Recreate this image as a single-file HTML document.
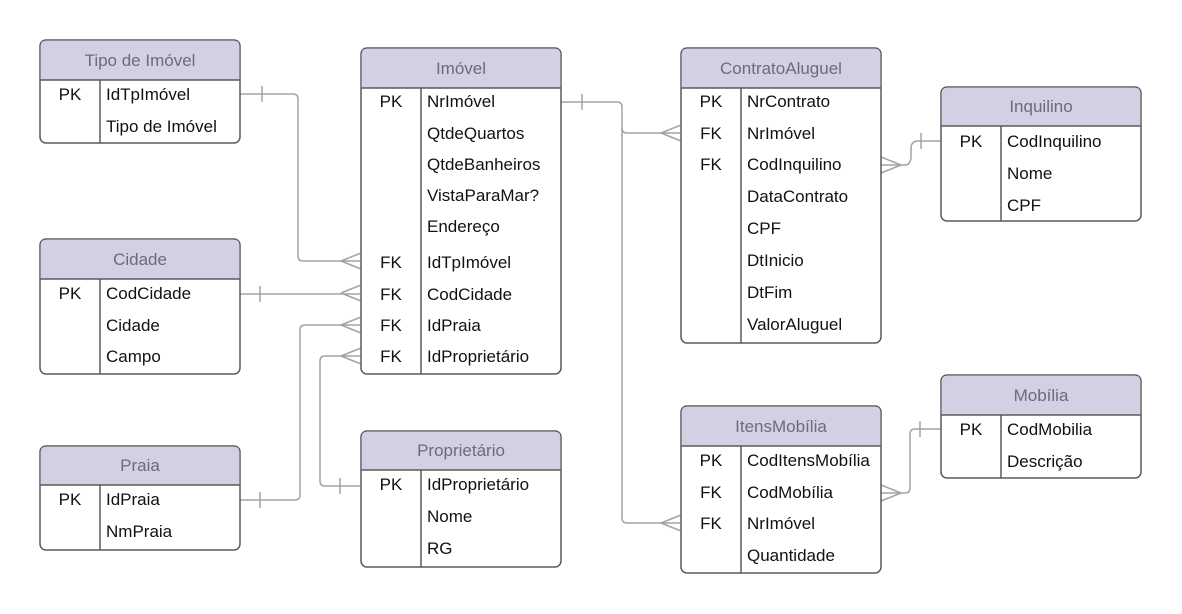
<!DOCTYPE html>
<html><head><meta charset="utf-8"><style>
html,body{margin:0;padding:0;background:#fff;}
svg{display:block;}
text{font-family:"Liberation Sans",sans-serif;font-size:17px;fill:#111;}
.h{fill:#6c6a7c;text-anchor:middle;}
.k{text-anchor:middle;}
.tb{fill:#fff;stroke:#5a5a5a;stroke-width:1.5;}
.hd{fill:#d3d0e4;}
.ln{stroke:#5a5a5a;stroke-width:1.5;fill:none;}
.c{stroke:#a3a3a3;stroke-width:1.5;fill:none;}
</style></head><body>
<svg width="1182" height="614" viewBox="0 0 1182 614" xmlns="http://www.w3.org/2000/svg">
<g class="c">
<path d="M240 94 H293 Q298 94 298 99 V256 Q298 261 303 261 H361"/>
<line x1="262" y1="86" x2="262" y2="102"/>
<path d="M341 261 L361 253 M341 261 L361 269"/>
<path d="M240 294 H361"/>
<line x1="260" y1="286" x2="260" y2="302"/>
<path d="M341 293 L361 285 M341 293 L361 301"/>
<path d="M240 500 H295 Q300 500 300 495 V330 Q300 325 305 325 H361"/>
<line x1="260" y1="492" x2="260" y2="508"/>
<path d="M341 325 L361 317 M341 325 L361 333"/>
<path d="M361 486 H325 Q320 486 320 481 V361 Q320 356 325 356 H361"/>
<line x1="340" y1="478" x2="340" y2="494"/>
<path d="M341 356 L361 348 M341 356 L361 364"/>
<path d="M561 102 H617 Q622 102 622 107 V128 Q622 133 627 133 H681"/>
<path d="M622 128 V518 Q622 523 627 523 H681"/>
<line x1="582" y1="94" x2="582" y2="110"/>
<path d="M661 133 L681 125 M661 133 L681 141"/>
<path d="M661 523 L681 515 M661 523 L681 531"/>
<path d="M881 165 H905 Q910 165 911 158 V147 Q912 141 918 141 H941"/>
<line x1="921" y1="133" x2="921" y2="149"/>
<path d="M901 165 L881 157 M901 165 L881 173"/>
<path d="M881 493 H905 Q910 493 910 488 V434 Q910 429 915 429 H941"/>
<line x1="920" y1="421" x2="920" y2="437"/>
<path d="M901 493 L881 485 M901 493 L881 501"/>
</g>

<g>
<rect class="tb" x="40" y="40" width="200" height="103" rx="6"/>
<path class="hd" d="M46 40.75 H234 Q239.25 40.75 239.25 46 V80 H40.75 V46 Q40.75 40.75 46 40.75Z"/>
<line class="ln" x1="40" y1="80" x2="240" y2="80"/><line class="ln" x1="100" y1="80" x2="100" y2="143"/>
<text class="h" x="140" y="66">Tipo de Imóvel</text>
<text class="k" x="70" y="100">PK</text><text x="106" y="100">IdTpImóvel</text>
<text x="106" y="132">Tipo de Imóvel</text>
</g>

<g>
<rect class="tb" x="361" y="48" width="200" height="326" rx="6"/>
<path class="hd" d="M367 48.75 H555 Q560.25 48.75 560.25 54 V88 H361.75 V54 Q361.75 48.75 367 48.75Z"/>
<line class="ln" x1="361" y1="88" x2="561" y2="88"/><line class="ln" x1="421" y1="88" x2="421" y2="374"/>
<text class="h" x="461" y="74">Imóvel</text>
<text class="k" x="391" y="107">PK</text><text x="427" y="107">NrImóvel</text>
<text x="427" y="139">QtdeQuartos</text>
<text x="427" y="170">QtdeBanheiros</text>
<text x="427" y="201">VistaParaMar?</text>
<text x="427" y="232">Endereço</text>
<text class="k" x="391" y="268">FK</text><text x="427" y="268">IdTpImóvel</text>
<text class="k" x="391" y="300">FK</text><text x="427" y="300">CodCidade</text>
<text class="k" x="391" y="331">FK</text><text x="427" y="331">IdPraia</text>
<text class="k" x="391" y="362">FK</text><text x="427" y="362">IdProprietário</text>
</g>

<g>
<rect class="tb" x="681" y="48" width="200" height="295" rx="6"/>
<path class="hd" d="M687 48.75 H875 Q880.25 48.75 880.25 54 V88 H681.75 V54 Q681.75 48.75 687 48.75Z"/>
<line class="ln" x1="681" y1="88" x2="881" y2="88"/><line class="ln" x1="741" y1="88" x2="741" y2="343"/>
<text class="h" x="781" y="74">ContratoAluguel</text>
<text class="k" x="711" y="107">PK</text><text x="747" y="107">NrContrato</text>
<text class="k" x="711" y="139">FK</text><text x="747" y="139">NrImóvel</text>
<text class="k" x="711" y="170">FK</text><text x="747" y="170">CodInquilino</text>
<text x="747" y="202">DataContrato</text>
<text x="747" y="234">CPF</text>
<text x="747" y="266">DtInicio</text>
<text x="747" y="298">DtFim</text>
<text x="747" y="330">ValorAluguel</text>
</g>

<g>
<rect class="tb" x="941" y="87" width="200" height="134" rx="6"/>
<path class="hd" d="M947 87.75 H1135 Q1140.25 87.75 1140.25 93 V126 H941.75 V93 Q941.75 87.75 947 87.75Z"/>
<line class="ln" x1="941" y1="126" x2="1141" y2="126"/><line class="ln" x1="1001" y1="126" x2="1001" y2="221"/>
<text class="h" x="1041" y="112">Inquilino</text>
<text class="k" x="971" y="147">PK</text><text x="1007" y="147">CodInquilino</text>
<text x="1007" y="179">Nome</text>
<text x="1007" y="211">CPF</text>
</g>

<g>
<rect class="tb" x="40" y="239" width="200" height="135" rx="6"/>
<path class="hd" d="M46 239.75 H234 Q239.25 239.75 239.25 245 V279 H40.75 V245 Q40.75 239.75 46 239.75Z"/>
<line class="ln" x1="40" y1="279" x2="240" y2="279"/><line class="ln" x1="100" y1="279" x2="100" y2="374"/>
<text class="h" x="140" y="265">Cidade</text>
<text class="k" x="70" y="299">PK</text><text x="106" y="299">CodCidade</text>
<text x="106" y="331">Cidade</text>
<text x="106" y="362">Campo</text>
</g>

<g>
<rect class="tb" x="40" y="446" width="200" height="104" rx="6"/>
<path class="hd" d="M46 446.75 H234 Q239.25 446.75 239.25 452 V485 H40.75 V452 Q40.75 446.75 46 446.75Z"/>
<line class="ln" x1="40" y1="485" x2="240" y2="485"/><line class="ln" x1="100" y1="485" x2="100" y2="550"/>
<text class="h" x="140" y="471">Praia</text>
<text class="k" x="70" y="505">PK</text><text x="106" y="505">IdPraia</text>
<text x="106" y="537">NmPraia</text>
</g>

<g>
<rect class="tb" x="361" y="431" width="200" height="136" rx="6"/>
<path class="hd" d="M367 431.75 H555 Q560.25 431.75 560.25 437 V470 H361.75 V437 Q361.75 431.75 367 431.75Z"/>
<line class="ln" x1="361" y1="470" x2="561" y2="470"/><line class="ln" x1="421" y1="470" x2="421" y2="567"/>
<text class="h" x="461" y="456">Proprietário</text>
<text class="k" x="391" y="490">PK</text><text x="427" y="490">IdProprietário</text>
<text x="427" y="522">Nome</text>
<text x="427" y="554">RG</text>
</g>

<g>
<rect class="tb" x="681" y="406" width="200" height="167" rx="6"/>
<path class="hd" d="M687 406.75 H875 Q880.25 406.75 880.25 412 V446 H681.75 V412 Q681.75 406.75 687 406.75Z"/>
<line class="ln" x1="681" y1="446" x2="881" y2="446"/><line class="ln" x1="741" y1="446" x2="741" y2="573"/>
<text class="h" x="781" y="432">ItensMobília</text>
<text class="k" x="711" y="466">PK</text><text x="747" y="466">CodItensMobília</text>
<text class="k" x="711" y="498">FK</text><text x="747" y="498">CodMobília</text>
<text class="k" x="711" y="529">FK</text><text x="747" y="529">NrImóvel</text>
<text x="747" y="561">Quantidade</text>
</g>

<g>
<rect class="tb" x="941" y="375" width="200" height="103" rx="6"/>
<path class="hd" d="M947 375.75 H1135 Q1140.25 375.75 1140.25 381 V415 H941.75 V381 Q941.75 375.75 947 375.75Z"/>
<line class="ln" x1="941" y1="415" x2="1141" y2="415"/><line class="ln" x1="1001" y1="415" x2="1001" y2="478"/>
<text class="h" x="1041" y="401">Mobília</text>
<text class="k" x="971" y="435">PK</text><text x="1007" y="435">CodMobilia</text>
<text x="1007" y="467">Descrição</text>
</g>
</svg>
</body></html>
